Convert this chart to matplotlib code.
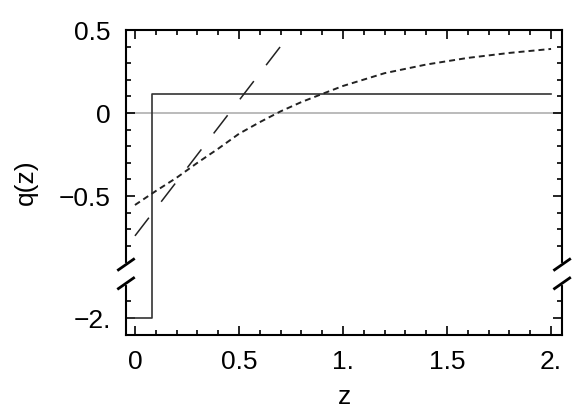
import matplotlib
matplotlib.use('Agg')
import matplotlib.pyplot as plt
import numpy as np
from matplotlib.ticker import FixedLocator, FixedFormatter

plt.rcParams['font.family'] = ['Liberation Sans', 'DejaVu Sans']
plt.rcParams['lines.scale_dashes'] = False

# step profile (solid)
step_z = [-0.05, 0.082, 0.082, 2.0]
step_q = [-2.0, -2.0, 0.114, 0.114]

# straight long-dashed line
line_z = [0.0, 0.705]
line_q = [-0.74, 0.41]

# short-dashed curve
curve_z = [0.0, 0.1, 0.2, 0.3, 0.4, 0.5, 0.6, 0.7, 0.8, 0.9, 1.0, 1.2, 1.4, 1.6, 1.8, 2.0]
curve_q = [-0.554, -0.47, -0.39, -0.30, -0.215, -0.125, -0.055, 0.01, 0.066, 0.115, 0.163,
           0.24, 0.292, 0.332, 0.362, 0.386]

xticks = [0, 0.5, 1.0, 1.5, 2.0]
xticklabels = ['0', '0.5', '1.', '1.5', '2.']
yticks = [-2.0, -0.5, 0.0, 0.5]
yticklabels = ['\u22122.', '\u22120.5', '0', '0.5']

# broken y axis: compress the range between -1.85 and -0.9
brk_in = [-3.0, -1.85, -0.9, 1.0]
brk_out = [-2.235, -1.085, -0.9, 1.0]


def fwd(y):
    return np.interp(y, brk_in, brk_out)


def inv(t):
    return np.interp(t, brk_out, brk_in)


fig = plt.figure(figsize=(5.78, 4.15), dpi=100)
ax = fig.add_axes([0.218, 0.1928, 0.7545, 0.7349])
ax.set_yscale('function', functions=(fwd, inv))

ax.axhline(0, color='#a8a8a8', lw=1.1, zorder=1)
ax.plot(step_z, step_q, color='#333333', lw=1.2, zorder=2)
ax.plot(line_z, line_q, color='#222222', lw=1.1, dashes=(16.5, 14.5), zorder=3)
ax.plot(curve_z, curve_q, color='#222222', lw=1.4, dashes=(4.3, 2.9), zorder=3)

ax.set_xlim(-0.043, 2.053)
ax.set_ylim(-2.102, 0.5)

ax.xaxis.set_major_locator(FixedLocator(xticks))
ax.xaxis.set_major_formatter(FixedFormatter(xticklabels))
ax.xaxis.set_minor_locator(FixedLocator([v / 10 for v in range(1, 20) if v % 5]))
ax.yaxis.set_major_locator(FixedLocator(yticks))
ax.yaxis.set_major_formatter(FixedFormatter(yticklabels))
ax.yaxis.set_minor_locator(FixedLocator([-1.9, -0.8, -0.7, -0.6, -0.4, -0.3, -0.2, -0.1,
                                         0.1, 0.2, 0.3, 0.4]))

ax.tick_params(which='both', direction='in', top=True, right=True, width=1.2,
               labelsize=19)
ax.tick_params(which='major', length=6.5)
ax.tick_params(which='minor', length=3.5)
ax.tick_params(axis='y', pad=11)
ax.tick_params(axis='x', pad=11)
for s in ax.spines.values():
    s.set_linewidth(1.5)

ax.set_xlabel('z', fontsize=19, labelpad=8)
ax.set_ylabel('q(z)', fontsize=19, labelpad=15)

# break marks on left and right spines
y_lo, y_hi = 0.1695, 0.231
for xs in (0.0, 1.0):
    ax.plot([xs, xs], [y_lo, y_hi], transform=ax.transAxes, color='white', lw=3,
            clip_on=False, zorder=5)
    for yc in (y_lo, y_hi):
        ax.plot([xs - 0.02, xs + 0.02], [yc - 0.02, yc + 0.02], transform=ax.transAxes,
                color='black', lw=2, clip_on=False, zorder=6, solid_capstyle='butt')

fig.savefig('out.png', dpi=100)
